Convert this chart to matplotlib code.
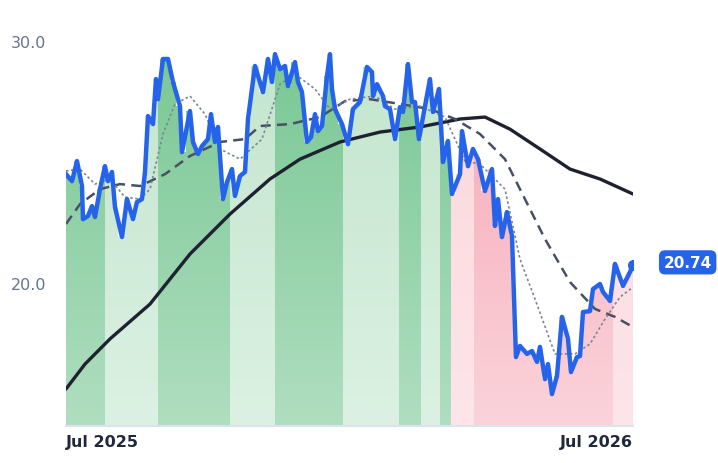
import matplotlib
matplotlib.use("Agg")
import matplotlib.pyplot as plt
import numpy as np
from matplotlib.colors import to_rgb

# x positions (time units), price values
price_t = [0,6,11,16,17,22,26,29,34,39,42,46,49,56,61,67,71,76,79,82,87,90,92,97,102,107,114,116,124,127,132,136,142,145,149,152,157,161,166,169,174,179,182,189,197,202,206,209,214,219,222,229,232,236,241,245,249,252,256,261,264,266,269,276,282,287,294,301,306,307,311,317,319,324,329,334,337,342,346,349,353,359,364,367,373,377,382,386,394,396,402,407,412,419,426,429,432,436,441,446,450,454,461,466,471,474,479,482,486,491,496,502,505,511,514,517,524,527,534,537,544,549,557,564,567]
price_v = [24.50,24.21,25.04,24.01,22.64,22.77,23.18,22.73,23.88,24.83,24.21,24.59,23.14,21.90,23.47,22.64,23.35,23.47,24.59,26.90,26.57,28.43,27.60,29.26,29.26,28.31,27.31,25.41,27.11,25.83,25.33,25.66,25.95,26.98,25.83,26.45,23.47,24.17,24.71,23.60,24.42,24.59,26.78,28.97,27.89,29.26,28.31,29.46,28.84,28.97,28.14,29.13,28.31,27.89,25.83,26.03,26.98,26.28,26.49,28.55,29.46,28.02,27.19,26.57,25.74,27.19,27.48,28.93,28.72,27.73,28.22,27.73,27.31,27.19,25.95,27.27,27.07,29.05,27.48,27.48,25.95,27.31,28.43,27.07,28.02,25.00,25.87,23.68,24.50,26.28,24.83,25.54,25.12,23.80,24.71,22.36,23.47,21.90,22.93,21.94,16.94,17.40,17.07,17.19,16.74,17.36,16.03,16.65,15.41,16.16,18.60,17.69,16.32,16.94,16.98,18.80,18.84,19.75,19.96,19.63,19.26,20.79,19.88,20.45,20.74]

long_t = [0,19,44,84,124,164,204,234,274,314,354,394,419,444,474,504,534,567]
long_v = [15.62,16.65,17.69,19.13,21.20,22.85,24.30,25.12,25.83,26.24,26.45,26.78,26.86,26.36,25.54,24.71,24.30,23.68]

mid_t = [0,14,34,54,74,99,124,154,179,194,224,254,279,304,334,364,389,414,439,454,479,504,529,549,567]
mid_v = [22.44,23.26,23.88,24.09,24.01,24.50,25.25,25.83,25.95,26.49,26.57,26.86,27.52,27.60,27.40,27.19,26.78,26.16,25.12,23.88,21.82,20.04,18.93,18.60,18.18]

short_t = [0,14,29,44,59,74,84,97,109,124,139,154,174,196,214,229,249,264,284,309,329,354,379,399,414,439,454,469,489,509,524,539,554,567]
short_v = [24.63,24.71,24.09,24.30,23.55,23.47,23.88,26.16,27.40,27.73,26.98,25.54,25.12,25.95,28.22,28.64,28.02,27.19,27.60,27.73,27.19,27.31,26.86,25.04,24.92,23.88,20.99,19.34,17.07,17.07,17.48,18.51,19.42,19.83]

band_edges = [0,39,92,164,209,277,333,355,374,385,408,547,567]
band_kind = ["g","gl","g","gl","g","gl","g","gl","g","rl","r","rl"]
band_cols = {"g":("#78c793","#b0dec0"),"gl":("#c2e5cd","#dcf1e3"),
             "r":("#f6a6b5","#fbd3da"),"rl":("#fbd6dc","#fde5e9")}

last_label = "20.74"
ymin, ymax = 14.09, 31.74

fig = plt.figure(figsize=(7.18,4.64), dpi=100)
ax = fig.add_axes([0.0919,0.0797,0.7897,0.9203])
ax.set_xlim(0,567); ax.set_ylim(ymin,ymax)

poly = ax.fill_between(price_t, price_v, ymin, step="mid", color="none", lw=0)
clip = poly.get_paths()[0]
from matplotlib.patches import PathPatch
pp = PathPatch(clip, transform=ax.transData, facecolor="none", edgecolor="none")
ax.add_patch(pp)
for i,k in enumerate(band_kind):
    top, bot = np.array(to_rgb(band_cols[k][0])), np.array(to_rgb(band_cols[k][1]))
    f = np.linspace(0,1,100)[:,None]
    img = (top*(1-f)+bot*f)[:,None,:]
    im = ax.imshow(img, extent=[band_edges[i],band_edges[i+1],ymin,30], aspect="auto", zorder=1, interpolation="bilinear")
    im.set_clip_path(pp)
ax.set_xlim(0,567); ax.set_ylim(ymin,ymax)

ax.plot(long_t,long_v,color="#1e2230",lw=2.4,zorder=3,solid_capstyle="round")
ax.plot(mid_t,mid_v,color="#475163",lw=1.8,ls=(0,(4,2.5)),zorder=3)
ax.plot(short_t,short_v,color="#7c8594",lw=1.2,ls=(0,(1.5,1.5)),zorder=3)
ax.plot(price_t,price_v,color="#2563eb",lw=3.2,zorder=4,solid_joinstyle="round")
ax.plot([price_t[-1]],[price_v[-1]],"o",color="#2563eb",ms=7,zorder=5)
ax.annotate(last_label,(price_t[-1],price_v[-1]),xytext=(22,2),textcoords="offset points",
            color="white",fontsize=11,fontweight="bold",va="center",ha="left",
            bbox=dict(boxstyle="round,pad=0.3,rounding_size=0.4",fc="#2563eb",ec="none"),annotation_clip=False)

for s in ["top","right","left"]:
    ax.spines[s].set_visible(False)
ax.spines["bottom"].set_color("#dde3ea"); ax.spines["bottom"].set_linewidth(1.5)
ax.set_yticks([20,30]); ax.set_yticklabels(["20.0","30.0"])
ax.tick_params(axis="y",length=0,pad=14,labelsize=11.5,labelcolor="#64748b")
ax.set_xticks([0,567]); ax.set_xticklabels(["Jul 2025","Jul 2026"])
ax.tick_params(axis="x",length=0,pad=6,labelsize=11.5,labelcolor="#1e293b")
lbls = ax.get_xticklabels()
lbls[0].set_ha("left"); lbls[1].set_ha("right")
for l in lbls: l.set_fontweight("bold")
fig.savefig("out.png",dpi=100)
